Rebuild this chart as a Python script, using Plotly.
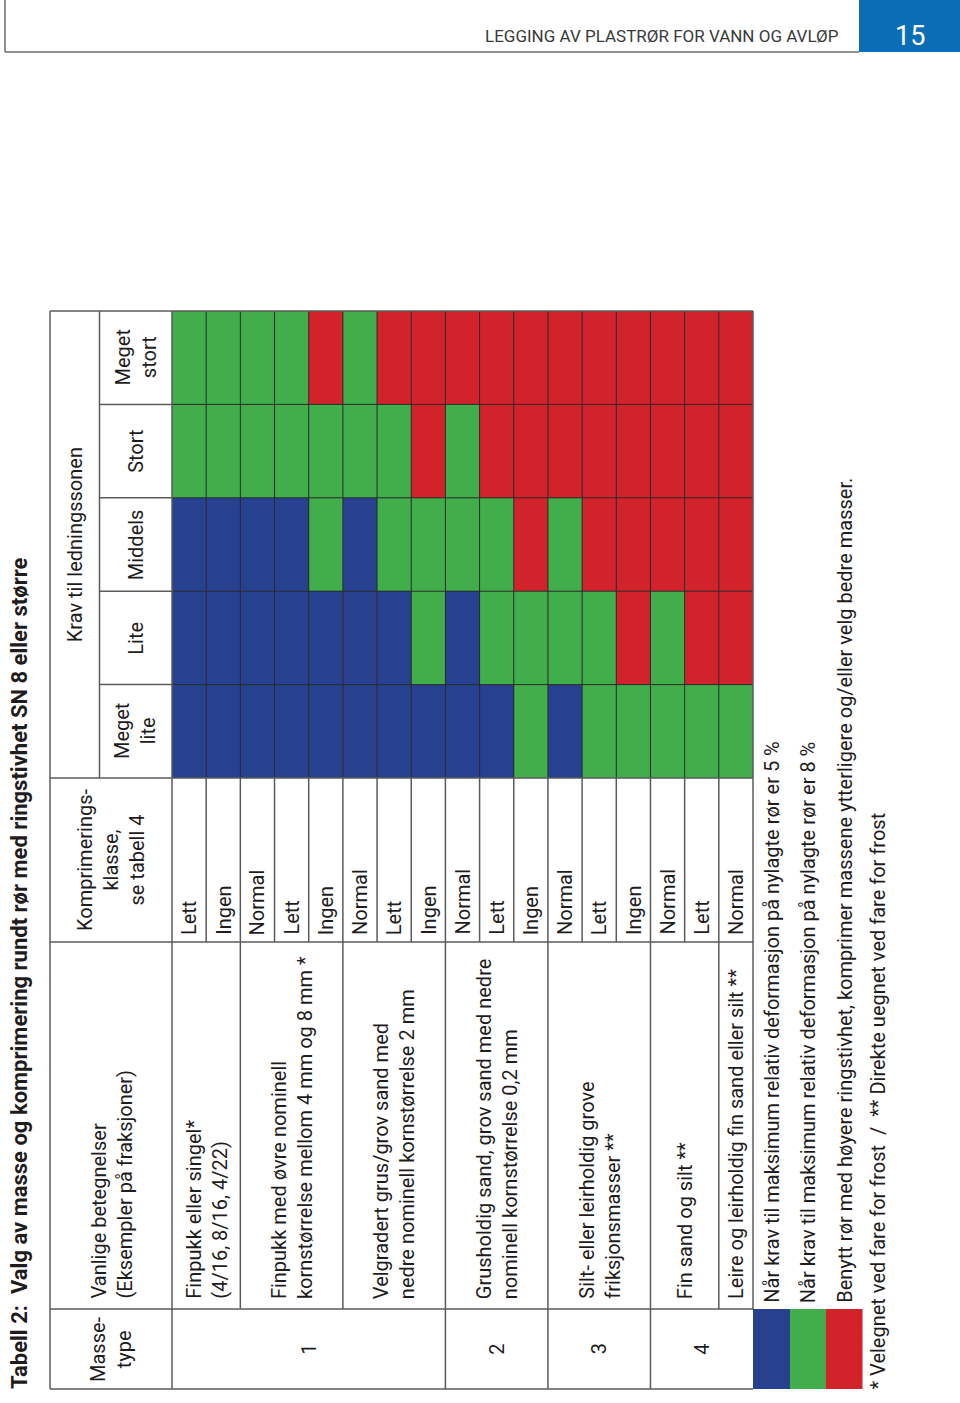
import plotly.graph_objects as go

# ---------------- data ----------------
title_text = "Tabell 2:  Valg av masse og komprimering rundt rør med ringstivhet SN 8 eller større"
page_header = "LEGGING AV PLASTRØR FOR VANN OG AVLØP"
page_number = "15"

requirement_levels = ["Meget lite", "Lite", "Middels", "Stort", "Meget stort"]
requirement_header_labels = ["Meget<br>lite", "Lite", "Middels", "Stort", "Meget<br>stort"]
requirement_group_label = "Krav til ledningssonen"

head_masse = "Masse-<br>type"
head_vanlige = "Vanlige betegnelser<br>(Eksempler på fraksjoner)"
head_kompr = "Komprimerings-<br>klasse,<br>se tabell 4"

mass_types = ["1", "2", "3", "4"]
mass_type_row_counts = [8, 3, 3, 3]

soil_descriptions = [
    "Finpukk eller singel*<br>(4/16, 8/16, 4/22)",
    "Finpukk med øvre nominell<br>kornstørrelse mellom 4 mm og 8 mm *",
    "Velgradert grus/grov sand med<br>nedre nominell kornstørrelse 2 mm",
    "Grusholdig sand, grov sand med nedre<br>nominell kornstørrelse 0,2 mm",
    "Silt- eller leirholdig grove<br>friksjonsmasser **",
    "Fin sand og silt **",
    "Leire og leirholdig fin sand eller silt **",
]
soil_row_counts = [2, 3, 3, 3, 3, 2, 1]

compaction_classes = ["Lett", "Ingen", "Normal", "Lett", "Ingen", "Normal", "Lett", "Ingen",
                      "Normal", "Lett", "Ingen", "Normal", "Lett", "Ingen", "Normal", "Lett", "Normal"]

# suitability per row, columns = requirement_levels; B = 5 %, G = 8 %, R = stiffer pipe / better masses
suitability = ["BBBGG", "BBBGG", "BBBGG", "BBBGG", "BBGGR", "BBBGG", "BBGGR", "BGGRR",
               "BBGGR", "BGGRR", "GGRRR", "BGGRR", "GGRRR", "GRRRR", "GGRRR", "GRRRR", "GRRRR"]

legend_codes = ["B", "G", "R"]
legend_texts = [
    "Når krav til maksimum relativ deformasjon på nylagte rør er 5 %",
    "Når krav til maksimum relativ deformasjon på nylagte rør er 8 %",
    "Benytt rør med høyere ringstivhet, komprimer massene ytterligere og/eller velg bedre masser.",
]
footnote = "* Velegnet ved fare for frost  /  ** Direkte uegnet ved fare for frost"

# ---------------- styles / geometry ----------------
W, H = 960, 1403
FONT = "Roboto, Liberation Sans, sans-serif"
FS = 20
TXT = "#1f1c1d"
LINE = "#5b5b5b"
GRIDLINE = "#2a2a2a"
code_color = {"B": "#26418f", "G": "#41ad4b", "R": "#d2232a"}
code_num = {"B": 0, "G": 1, "R": 2}
colorscale = [[0, code_color["B"]], [0.3333, code_color["B"]], [0.3333, code_color["G"]],
              [0.6667, code_color["G"]], [0.6667, code_color["R"]], [1, code_color["R"]]]

T_LEFT, T_SPLIT, G_LEFT, G_RIGHT = 50, 99.5, 172, 753
G_TOP, G_BOTTOM, K_END, V_END, T_BOTTOM = 311, 778, 942, 1309, 1389
LEG_RIGHT = 862.5
N = len(compaction_classes)
RW = (G_RIGHT - G_LEFT) / N
BAND = (G_BOTTOM - G_TOP) / len(requirement_levels)


def px2x(p):
    return -0.5 + (p - G_LEFT) / RW


fig = go.Figure()

# main grid heatmap (x = row index, y = requirement level)
z = [[code_num[suitability[r][c]] for r in range(N)] for c in range(len(requirement_levels))]
fig.add_trace(go.Heatmap(
    x=list(range(N)), y=requirement_levels, z=z, xaxis="x", yaxis="y2",
    colorscale=colorscale, zmin=0, zmax=2, showscale=False, hoverinfo="skip"))

# legend colour boxes
fig.add_trace(go.Heatmap(
    x=list(range(len(legend_codes))), y=["legend"], z=[[code_num[c] for c in legend_codes]],
    xaxis="x3", yaxis="y3", colorscale=colorscale, zmin=0, zmax=2, showscale=False,
    hoverinfo="skip"))

shapes = []


def hline(y, x0, x1, color=LINE, w=1.5):
    shapes.append(dict(type="line", xref="x", yref="y", x0=px2x(x0), x1=px2x(x1), y0=y, y1=y,
                       line=dict(color=color, width=w)))


def vline(xp, y0, y1, color=LINE, w=1.5):
    shapes.append(dict(type="line", xref="x", yref="y", x0=px2x(xp), x1=px2x(xp), y0=y0, y1=y1,
                       line=dict(color=color, width=w)))


# grid lines inside coloured area
for k in range(1, len(requirement_levels)):
    yb = G_TOP + k * BAND
    hline(yb, G_LEFT, G_RIGHT, GRIDLINE, 1)
    hline(yb, T_SPLIT, G_LEFT)
for i in range(1, N):
    vline(G_LEFT + i * RW, G_TOP, G_BOTTOM, GRIDLINE, 1)

# boundaries in white area
soil_bounds = []
acc = 0
for n in soil_row_counts:
    acc += n
    soil_bounds.append(acc)
mass_bounds = []
acc = 0
for n in mass_type_row_counts:
    acc += n
    mass_bounds.append(acc)
for i in range(1, N):
    xp = G_LEFT + i * RW
    yend = K_END
    if i in soil_bounds:
        yend = V_END
    if i in mass_bounds:
        yend = T_BOTTOM
    vline(xp, G_BOTTOM, yend)

# outer frame and header separators
hline(G_TOP, T_LEFT, G_RIGHT)
hline(G_BOTTOM, T_LEFT, G_RIGHT)
hline(K_END, T_LEFT, G_RIGHT)
hline(V_END, T_LEFT, G_RIGHT)
hline(T_BOTTOM, T_LEFT, G_RIGHT)
vline(T_LEFT, G_TOP, T_BOTTOM)
vline(T_SPLIT, G_TOP, G_BOTTOM)
vline(G_LEFT, G_TOP, T_BOTTOM)
vline(G_RIGHT, G_TOP, V_END)

# page header decoration
shapes.append(dict(type="rect", xref="x", yref="y", x0=px2x(859), x1=px2x(W + 5), y0=-5, y1=52,
                   fillcolor="#0a6db5", line=dict(width=0)))
hline(52, 5, 859, "#6d6d6d", 1.5)
vline(5, -5, 52, "#6d6d6d", 1.5)

annotations = []


def ann(x, y, text, size=FS, xanchor="center", yanchor="bottom", align="left", angle=-90,
        color=TXT, xref="x", bold=False, fam=FONT):
    if bold:
        text = "<b>" + text + "</b>"
    annotations.append(dict(x=x, y=y, xref=xref, yref="y", text=text, showarrow=False,
                            textangle=angle, xanchor=xanchor, yanchor=yanchor, align=align,
                            font=dict(family=fam, size=size, color=color)))


# title
ann(px2x(19), T_BOTTOM + 2, title_text, size=22, bold=True)

# column headers
ann(px2x((T_LEFT + G_LEFT) / 2), (V_END + T_BOTTOM) / 2, head_masse, yanchor="middle", align="center")
ann(px2x((T_LEFT + G_LEFT) / 2), V_END - 8, head_vanlige)
ann(px2x((T_LEFT + G_LEFT) / 2), (G_BOTTOM + K_END) / 2, head_kompr, yanchor="middle", align="center")
ann(px2x((T_LEFT + T_SPLIT) / 2), (G_TOP + G_BOTTOM) / 2, requirement_group_label, yanchor="middle")
for k, lab in enumerate(requirement_header_labels):
    yc = G_BOTTOM - (k + 0.5) * BAND
    ann(px2x((T_SPLIT + G_LEFT) / 2), yc, lab, yanchor="middle", align="center")

# compaction labels
for r, lab in enumerate(compaction_classes):
    ann(r, K_END - 5, lab)

# soil descriptions
start = 0
for desc, n in zip(soil_descriptions, soil_row_counts):
    ann(start + (n - 1) / 2, V_END - 8, desc)
    start += n

# mass types
start = 0
for mt, n in zip(mass_types, mass_type_row_counts):
    ann(start + (n - 1) / 2, (V_END + T_BOTTOM) / 2, mt, yanchor="middle")
    start += n

# legend texts
for i, t in enumerate(legend_texts):
    annotations.append(dict(x=i, y=V_END - 4, xref="x3", yref="y", text=t, showarrow=False,
                            textangle=-90, xanchor="center", yanchor="bottom",
                            font=dict(family=FONT, size=FS, color=TXT)))
ann(px2x(877), T_BOTTOM + 3, footnote)

# page header text
ann(px2x(841), 48, page_header, size=17, xanchor="right", angle=0, color="#3a3a3a")
ann(px2x(910), 54, page_number, size=27, angle=0, color="white", yanchor="bottom")

fig.update_layout(
    width=W, height=H, margin=dict(l=0, r=0, t=0, b=0),
    paper_bgcolor="white", plot_bgcolor="rgba(0,0,0,0)", showlegend=False,
    xaxis=dict(range=[px2x(0), px2x(W)], domain=[0, 1], visible=False, fixedrange=True),
    yaxis=dict(range=[H, 0], domain=[0, 1], visible=False, fixedrange=True),
    yaxis2=dict(domain=[(H - G_BOTTOM) / H, (H - G_TOP) / H], anchor="x", visible=False,
                categoryorder="array", categoryarray=requirement_levels, range=[-0.5, 4.5]),
    xaxis3=dict(domain=[G_RIGHT / W, LEG_RIGHT / W], range=[-0.5, 2.5], anchor="y3", visible=False),
    yaxis3=dict(domain=[(H - T_BOTTOM) / H, (H - V_END) / H], anchor="x3", visible=False,
                range=[-0.5, 0.5]),
    shapes=shapes, annotations=annotations,
)
fig.write_html("out.html", config={"displayModeBar": False},
               post_script="document.body.style.margin='0';")
